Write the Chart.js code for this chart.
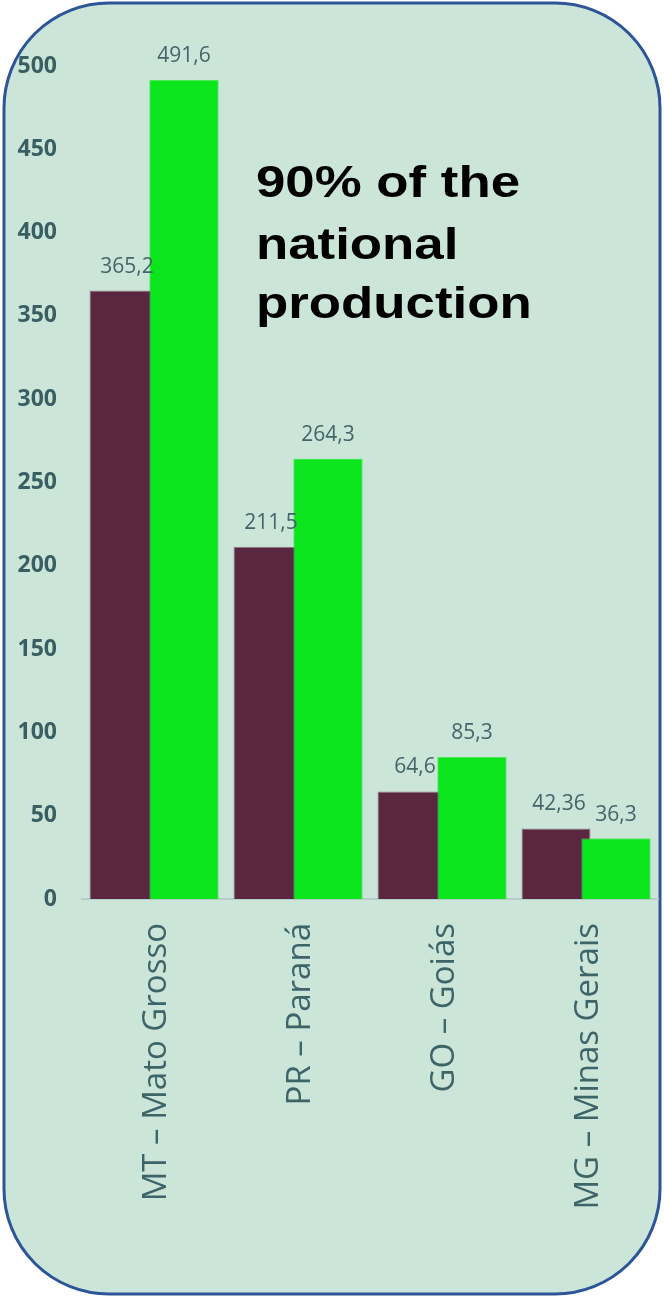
<!DOCTYPE html>
<html>
<head>
<meta charset="utf-8">
<script src="https://cdn.jsdelivr.net/npm/chart.js@4.4.1/dist/chart.umd.min.js"></script>
<style>
html,body{margin:0;padding:0;background:#ffffff;}
#wrap{position:relative;width:664px;height:1297px;}
</style>
</head>
<body>
<div id="wrap"><canvas id="c" width="664" height="1297"></canvas></div>
<script>
const categories = ["MT – Mato Grosso", "PR – Paraná", "GO – Goiás", "MG – Minas Gerais"];
const seriesA = [365.2, 211.5, 64.6, 42.36];
const seriesB = [491.6, 264.3, 85.3, 36.3];
const yTicks = [0, 50, 100, 150, 200, 250, 300, 350, 400, 450, 500];
const titleLines = ["90% of the", "national", "production"];

const fmt = v => String(v).replace('.', ',');

const bgPlugin = {
  id: 'bg',
  beforeDraw(chart) {
    const ctx = chart.ctx;
    ctx.save();
    ctx.beginPath();
    ctx.roundRect(4, 3, 656, 1291, 105);
    ctx.fillStyle = '#cce5d9';
    ctx.fill();
    ctx.lineWidth = 3;
    ctx.strokeStyle = '#2e5597';
    ctx.stroke();
    ctx.restore();
  }
};

const overlayPlugin = {
  id: 'overlay',
  afterDatasetsDraw(chart) {
    const ctx = chart.ctx;
    // draw second series on top of the first (overlapping bars)
    const metaB = chart.getDatasetMeta(1);
    metaB.controller.draw();
    // value labels
    ctx.save();
    ctx.font = '21px "Open Sans"';
    ctx.fillStyle = '#44656a';
    ctx.textAlign = 'center';
    ctx.textBaseline = 'middle';
    chart.data.datasets.forEach((ds, di) => {
      const meta = chart.getDatasetMeta(di);
      meta.data.forEach((bar, i) => {
        ctx.fillText(fmt(ds.data[i]), bar.x + (di === 0 ? 3 : 0), bar.y - 24);
      });
    });
    // title
    ctx.fillStyle = '#000000';
    ctx.font = 'bold 44px "Liberation Sans", Arial, sans-serif';
    ctx.textAlign = 'left';
    ctx.textBaseline = 'alphabetic';
    const baselines = [197, 259, 318];
    titleLines.forEach((t, i) => {
      ctx.save();
      ctx.translate(256, baselines[i]);
      ctx.scale(1.2, 1);
      ctx.fillText(t, 0, 0);
      ctx.restore();
    });
    ctx.restore();
  }
};

new Chart(document.getElementById('c'), {
  type: 'bar',
  data: {
    labels: categories,
    datasets: [
      { label: 'A', data: seriesA, backgroundColor: '#5a2640', borderColor: '#8e7f86', borderWidth: 1,
        categoryPercentage: 0.8333, barPercentage: 1.15 },
      { label: 'B', data: seriesB, backgroundColor: '#0ae61b', borderColor: '#4ee85a', borderWidth: 1,
        categoryPercentage: 0.8333, barPercentage: 1.15 }
    ]
  },
  options: {
    responsive: false,
    animation: false,
    layout: { padding: { top: 66, right: 6, bottom: 0, left: 0 } },
    plugins: { legend: { display: false }, tooltip: { enabled: false } },
    scales: {
      x: {
        grid: { display: false, drawTicks: false },
        border: { display: true, color: '#b3cfc8', width: 2 },
        ticks: {
          autoSkip: false, minRotation: 90, maxRotation: 90, padding: 24, labelOffset: 3,
          color: '#3d6467', font: { family: 'Open Sans', size: 33 }
        },
        afterFit: s => { s.height = 398; }
      },
      y: {
        min: 0, max: 500,
        afterBuildTicks: s => { s.ticks = yTicks.map(v => ({ value: v })); },
        grid: { display: false, drawTicks: false },
        border: { display: false },
        ticks: {
          padding: 25, color: '#3a5f62',
          font: { family: 'Open Sans', size: 23, weight: 'bold' },
          callback: v => String(v)
        },
        afterFit: s => { s.width = 82; }
      }
    }
  },
  plugins: [bgPlugin, overlayPlugin]
});
</script>
</body>
</html>
